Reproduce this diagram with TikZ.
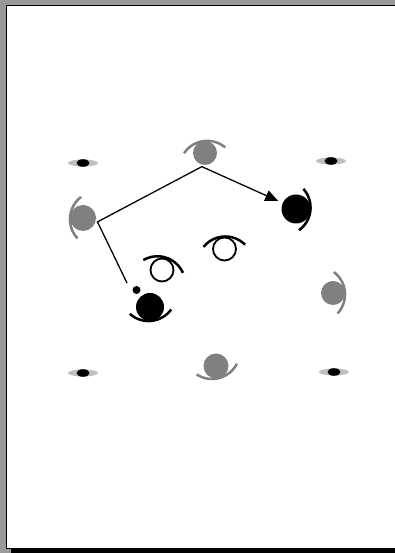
\documentclass[tikz,border=0pt]{standalone}
\usetikzlibrary{shapes.geometric,arrows.meta}
\definecolor{bggray}{gray}{0.6}
\definecolor{mangray}{gray}{0.5}
\definecolor{discgray}{gray}{0.75}
\begin{document}
\begin{tikzpicture}[x=1pt,y=1pt,
    grayman/.style={circle,fill=mangray,inner sep=0pt,outer sep=2pt},
    blackman/.style={circle,fill=black,inner sep=0pt,outer sep=2pt},
    openman/.style={circle,draw=black,line width=1.8pt,fill=white,inner sep=0pt},
    grayarm/.style={draw=mangray,line width=2.5pt},
    blackarm/.style={draw=black,line width=2.5pt},
    disc/.style={ellipse,fill=discgray,minimum width=30pt,minimum height=7pt,inner sep=0pt},
    link/.style={line width=1.3pt}]
    \useasboundingbox (0,0) rectangle (395,553);
    % page
    \fill[bggray] (0,0) rectangle (395,553);
    \fill[black] (11,0) rectangle (404,543);
    \draw[line width=1.5pt,fill=white] (6.5,4.5) rectangle (402,547.5);
    % discs
    \node[disc] (dnw) at (83,390) {};
    \node[disc] (dne) at (331,392) {};
    \node[disc] (dsw) at (83,180) {};
    \node[disc] (dse) at (334,181) {};
    \fill (dnw.center) ellipse [x radius=6.5pt,y radius=3.8pt];
    \fill (dne.center) ellipse [x radius=6.5pt,y radius=3.8pt];
    \fill (dsw.center) ellipse [x radius=6.5pt,y radius=3.8pt];
    \fill (dse.center) ellipse [x radius=6.5pt,y radius=3.8pt];
    % gray players
    \node[grayman,minimum size=24pt] (gtop) at (205,400) {};
    \node[grayman,minimum size=26pt] (gleft) at (83,335) {};
    \node[grayman,minimum size=24pt] (gright) at (333,260) {};
    \node[grayman,minimum size=25pt] (gbottom) at (216,187) {};
    \draw[grayarm] (gtop.center) ++(98:-16) ++(50:28) arc[start angle=50,end angle=146,radius=28pt];
    \draw[grayarm] (gleft.center) ++(175:-15) ++(127:28) arc[start angle=127,end angle=223,radius=28pt];
    \draw[grayarm] (gright.center) ++(5:-16) ++(-43:28) arc[start angle=-43,end angle=53,radius=28pt];
    \draw[grayarm] (gbottom.center) ++(285:-15.5) ++(237:28) arc[start angle=237,end angle=333,radius=28pt];
    % black players
    \node[blackman,minimum size=29pt,outer sep=5pt] (bright) at (296,344) {};
    \node[blackman,minimum size=28pt] (blow) at (150,246) {};
    \node[blackman,minimum size=8pt] (ball) at (136.5,263) {};
    \draw[blackarm] (bright.center) ++(354:-13.5) ++(306:28) arc[start angle=306,end angle=402,radius=28pt];
    \draw[blackarm] (blow.center) ++(276:-14) ++(228:28) arc[start angle=228,end angle=324,radius=28pt];
    % open players
    \node[openman,minimum size=23pt] (oleft) at (162,283) {};
    \node[openman,minimum size=23pt] (omid) at (224.5,304) {};
    \draw[blackarm] (oleft.center) ++(72:-15) ++(24:28) arc[start angle=24,end angle=120,radius=28pt];
    \draw[blackarm] (omid.center) ++(93:-15.5) ++(45:28) arc[start angle=45,end angle=141,radius=28pt];
    % passes
    \coordinate (tail) at (127,270);
    \draw[link] (gtop.257) -- (gleft.-15) -- (tail);
    \draw[link,-{Triangle[length=13pt,width=11pt]}] (gtop.257) -- (bright);
\end{tikzpicture}
\end{document}
